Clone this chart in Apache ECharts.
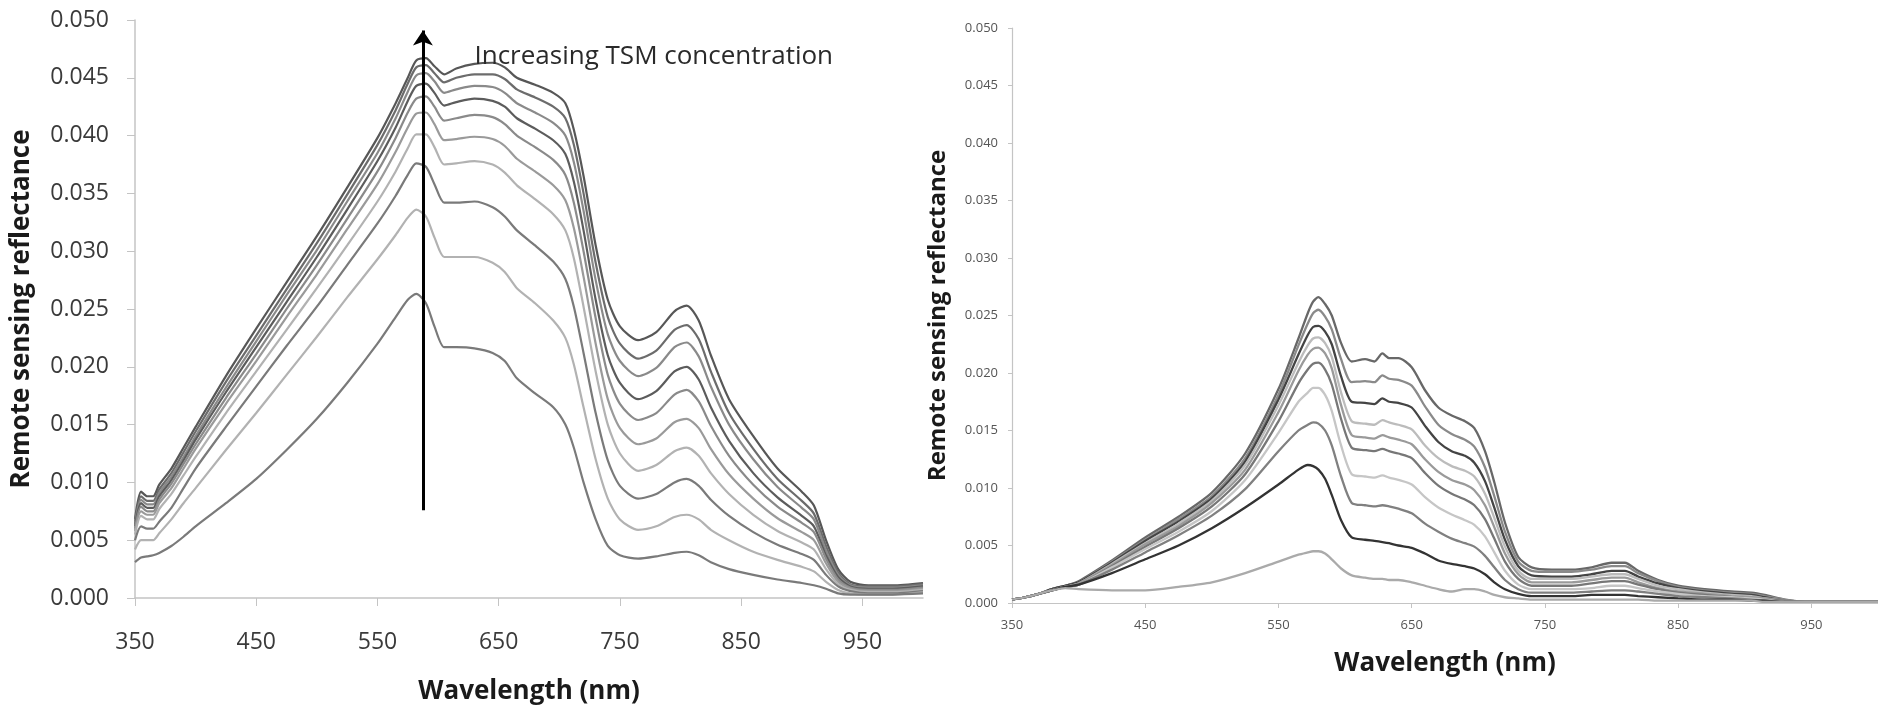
<!DOCTYPE html>
<html>
<head>
<meta charset="utf-8">
<script src="https://cdn.jsdelivr.net/npm/echarts@6/dist/echarts.min.js"></script>
<style>
html,body{margin:0;padding:0;background:#fff;}
#chart{width:1878px;height:710px;}
</style>
</head>
<body>
<div id="chart"></div>
<script>
// ---------------- DATA ----------------
const yTickLabels = ['0.000','0.005','0.010','0.015','0.020','0.025','0.030','0.035','0.040','0.045','0.050'];
const xTickLabels = ['350','450','550','650','750','850','950'];

// Left panel wavelengths (nm)
const wlLeft = [350,355,360,365,370,380,390,400,425,450,475,500,525,550,565,575,582,590,597,605,615,630,645,655,665,680,695,705,712,720,730,740,750,765,780,795,805,815,825,840,860,880,900,910,920,930,940,955,975,1000];
// Left panel curves, from highest to lowest TSM
const left1 = [.0068,.0092,.0088,.0088,.0098,.0112,.0130,.0148,.0192,.0233,.0273,.0313,.0355,.0398,.0428,.0450,.0465,.0467,.0460,.0453,.0458,.0462,.0463,.0459,.0450,.0444,.0437,.0428,.0405,.0365,.0305,.0258,.0235,.0223,.0230,.0248,.0253,.0240,.0210,.0172,.0140,.0112,.0092,.0080,.0050,.0025,.0014,.0011,.0011,.0013];
const left2 = [.0066,.0088,.0084,.0084,.0094,.0108,.0126,.0144,.0187,.0227,.0267,.0307,.0349,.0392,.0422,.0445,.0459,.0461,.0454,.0446,.0450,.0453,.0453,.0449,.0440,.0433,.0425,.0415,.0392,.0350,.0290,.0243,.0220,.0207,.0214,.0232,.0236,.0224,.0196,.0160,.0129,.0103,.0084,.0073,.0045,.0022,.0012,.0010,.0010,.0012];
const left3 = [.0064,.0085,.0081,.0081,.0091,.0105,.0122,.0140,.0182,.0222,.0262,.0301,.0343,.0385,.0415,.0438,.0452,.0454,.0447,.0437,.0440,.0443,.0442,.0437,.0428,.0420,.0411,.0400,.0377,.0335,.0275,.0228,.0205,.0192,.0199,.0217,.0221,.0209,.0183,.0150,.0120,.0096,.0078,.0068,.0041,.0020,.0011,.0009,.0009,.0011];
const left4 = [.0062,.0082,.0078,.0078,.0088,.0102,.0119,.0137,.0178,.0217,.0256,.0295,.0336,.0378,.0407,.0430,.0443,.0445,.0437,.0426,.0429,.0432,.0430,.0425,.0415,.0406,.0396,.0384,.0360,.0318,.0258,.0210,.0186,.0172,.0179,.0196,.0200,.0189,.0165,.0136,.0108,.0087,.0071,.0062,.0037,.0018,.0010,.0008,.0008,.0010];
const left5 = [.0060,.0079,.0075,.0075,.0085,.0099,.0116,.0133,.0173,.0211,.0250,.0288,.0328,.0369,.0398,.0420,.0432,.0434,.0425,.0413,.0415,.0418,.0416,.0410,.0400,.0390,.0379,.0366,.0342,.0300,.0242,.0193,.0168,.0154,.0160,.0176,.0180,.0170,.0149,.0123,.0098,.0079,.0065,.0057,.0034,.0016,.0009,.0007,.0007,.0009];
const left6 = [.0058,.0075,.0072,.0072,.0082,.0095,.0112,.0129,.0168,.0205,.0243,.0280,.0319,.0358,.0386,.0407,.0419,.0420,.0410,.0396,.0397,.0399,.0397,.0391,.0380,.0369,.0357,.0344,.0320,.0278,.0220,.0172,.0147,.0133,.0138,.0152,.0155,.0147,.0129,.0107,.0086,.0069,.0057,.0050,.0030,.0014,.0008,.0006,.0006,.0008];
const left7 = [.0055,.0071,.0068,.0068,.0077,.0090,.0106,.0122,.0160,.0196,.0232,.0268,.0305,.0343,.0369,.0389,.0401,.0401,.0390,.0375,.0376,.0378,.0375,.0368,.0357,.0345,.0332,.0318,.0294,.0252,.0196,.0150,.0125,.0110,.0115,.0127,.0130,.0123,.0108,.0090,.0072,.0058,.0048,.0042,.0025,.0012,.0007,.0005,.0005,.0007];
const left8 = [.0050,.0062,.0060,.0060,.0066,.0078,.0095,.0112,.0148,.0183,.0218,.0252,.0288,.0324,.0348,.0366,.0376,.0373,.0358,.0342,.0342,.0343,.0338,.0330,.0318,.0305,.0291,.0276,.0252,.0212,.0160,.0119,.0097,.0086,.0090,.0100,.0103,.0097,.0085,.0071,.0057,.0046,.0038,.0033,.0020,.0010,.0006,.0004,.0004,.0006];
const left9 = [.0042,.0050,.0050,.0050,.0056,.0068,.0082,.0095,.0128,.0160,.0193,.0226,.0260,.0293,.0314,.0329,.0336,.0330,.0312,.0295,.0295,.0295,.0290,.0282,.0268,.0255,.0240,.0225,.0202,.0165,.0120,.0086,.0068,.0059,.0062,.0070,.0072,.0068,.0059,.0050,.0040,.0033,.0027,.0023,.0014,.0007,.0004,.0003,.0003,.0005];
const left10 = [.0031,.0035,.0036,.0037,.0039,.0045,.0053,.0062,.0082,.0103,.0128,.0155,.0186,.0220,.0243,.0258,.0263,.0255,.0235,.0217,.0217,.0216,.0212,.0205,.0190,.0177,.0165,.0150,.0130,.0100,.0068,.0045,.0037,.0034,.0036,.0039,.0040,.0037,.0031,.0025,.0020,.0016,.0013,.0011,.0008,.0004,.0003,.0003,.0003,.0004];
const leftColors = ['#575757','#6c6c6c','#8a8a8a','#5c5c5c','#8a8a8a','#9a9a9a','#b2b2b2','#7a7a7a','#b2b2b2','#7a7a7a'];

// Right panel wavelengths (nm)
const wlRight = [350,360,370,380,390,400,425,450,475,500,525,550,565,572,576,580,585,590,597,605,615,622,628,633,640,650,660,670,680,690,697,705,712,720,730,740,755,770,785,800,810,820,835,850,870,890,905,915,930,945,970,1000];
const right1 = [.0003,.0005,.0008,.0012,.0015,.0019,.0037,.0057,.0075,.0096,.0130,.0186,.0230,.0252,.0262,.0266,.0260,.0250,.0226,.0210,.0212,.0210,.0217,.0213,.0213,.0205,.0185,.0170,.0163,.0158,.0152,.0132,.0105,.0070,.0040,.0031,.0029,.0029,.0031,.0035,.0035,.0028,.0020,.0015,.0012,.0010,.0009,.0007,.0003,.0001,.0001,.0001];
const right2 = [.0003,.0005,.0008,.0012,.0015,.0018,.0036,.0055,.0073,.0093,.0126,.0181,.0224,.0243,.0252,.0255,.0249,.0238,.0212,.0192,.0193,.0192,.0198,.0195,.0194,.0189,.0171,.0155,.0147,.0142,.0136,.0118,.0093,.0062,.0036,.0028,.0027,.0027,.0029,.0032,.0032,.0026,.0019,.0014,.0011,.0009,.0008,.0006,.0003,.0001,.0001,.0001];
const right3 = [.0003,.0005,.0008,.0012,.0015,.0018,.0035,.0054,.0071,.0091,.0123,.0177,.0216,.0233,.0240,.0241,.0236,.0225,.0197,.0175,.0174,.0173,.0178,.0175,.0174,.0170,.0154,.0140,.0132,.0128,.0122,.0106,.0083,.0055,.0032,.0024,.0023,.0023,.0025,.0028,.0028,.0023,.0017,.0013,.0010,.0008,.0007,.0005,.0002,.0001,.0001,.0001];
const right4 = [.0003,.0005,.0008,.0011,.0014,.0017,.0034,.0052,.0069,.0089,.0120,.0172,.0209,.0224,.0230,.0231,.0226,.0214,.0183,.0158,.0156,.0155,.0159,.0157,.0155,.0151,.0137,.0126,.0119,.0115,.0110,.0095,.0074,.0049,.0028,.0021,.0021,.0021,.0023,.0025,.0025,.0021,.0015,.0012,.0009,.0007,.0006,.0004,.0002,.0001,.0001,.0001];
const right5 = [.0003,.0005,.0008,.0011,.0014,.0017,.0033,.0051,.0067,.0087,.0116,.0166,.0202,.0216,.0221,.0222,.0217,.0204,.0172,.0146,.0144,.0143,.0146,.0144,.0142,.0138,.0125,.0114,.0107,.0103,.0098,.0085,.0066,.0043,.0025,.0018,.0018,.0018,.0020,.0022,.0022,.0018,.0013,.0010,.0008,.0006,.0005,.0004,.0002,.0001,.0001,.0001];
const right6 = [.0003,.0005,.0008,.0011,.0014,.0016,.0032,.0049,.0065,.0084,.0112,.0158,.0191,.0203,.0208,.0209,.0203,.0190,.0160,.0135,.0133,.0132,.0134,.0132,.0130,.0126,.0113,.0102,.0095,.0090,.0085,.0073,.0056,.0036,.0021,.0015,.0015,.0015,.0017,.0019,.0019,.0016,.0012,.0009,.0007,.0005,.0004,.0003,.0002,.0001,.0001,.0001];
const right7 = [.0003,.0005,.0008,.0011,.0014,.0016,.0031,.0047,.0062,.0080,.0107,.0148,.0175,.0183,.0187,.0187,.0181,.0167,.0137,.0112,.0110,.0109,.0111,.0109,.0107,.0103,.0092,.0083,.0077,.0072,.0068,.0058,.0044,.0028,.0016,.0012,.0012,.0012,.0013,.0015,.0015,.0013,.0010,.0008,.0006,.0005,.0004,.0003,.0001,.0001,.0001,.0001];
const right8 = [.0003,.0005,.0008,.0011,.0014,.0016,.0029,.0044,.0059,.0076,.0099,.0132,.0150,.0155,.0157,.0156,.0150,.0137,.0110,.0087,.0085,.0084,.0085,.0084,.0082,.0078,.0069,.0062,.0056,.0052,.0049,.0041,.0031,.0020,.0012,.0009,.0009,.0009,.0010,.0011,.0011,.0010,.0008,.0006,.0005,.0004,.0003,.0002,.0001,.0001,.0001,.0001];
const right9 = [.0003,.0005,.0008,.0011,.0014,.0016,.0026,.0038,.0050,.0065,.0083,.0103,.0116,.0120,.0119,.0116,.0108,.0094,.0072,.0057,.0055,.0054,.0053,.0052,.0050,.0048,.0043,.0037,.0034,.0032,.0030,.0025,.0018,.0012,.0008,.0006,.0006,.0006,.0007,.0007,.0007,.0006,.0005,.0004,.0003,.0003,.0002,.0002,.0001,.0001,.0001,.0001];
const right10 = [.0003,.0005,.0008,.0011,.0013,.0012,.0011,.0011,.0014,.0018,.0026,.0036,.0042,.0044,.0045,.0045,.0043,.0038,.0030,.0024,.0022,.0021,.0021,.0020,.0020,.0018,.0015,.0012,.0010,.0012,.0012,.0010,.0007,.0005,.0004,.0003,.0003,.0003,.0003,.0003,.0003,.0003,.0002,.0002,.0002,.0002,.0002,.0001,.0001,.0001,.0001,.0001];
const rightColors = ['#686868','#8a8a8a','#444444','#bcbcbc','#9a9a9a','#777777','#c6c6c6','#808080','#333333','#aaaaaa'];

const annotationText = 'Increasing TSM concentration';
const arrowWavelength = 587.5;
const arrowFrom = 0.0076, arrowTo = 0.0491;

// ---------------- CHART ----------------
const leftCurves = [left1,left2,left3,left4,left5,left6,left7,left8,left9,left10];
const rightCurves = [right1,right2,right3,right4,right5,right6,right7,right8,right9,right10];
const zip = (xs, ys) => xs.map((x, i) => [x, ys[i]]);
const FONT = "'Open Sans', 'DejaVu Sans', sans-serif";

function xAxisCfg(gridIndex, big) {
  return {
    type: 'value', gridIndex, min: 350, max: 1000, interval: 100,
    name: 'Wavelength (nm)', nameLocation: 'middle', nameGap: big ? 81 : 48,
    nameTextStyle: { fontFamily: FONT, fontWeight: 'bold', fontSize: 26, color: '#1a1a1a' },
    axisLine: { show: true, lineStyle: { color: '#c4c4c4', width: big ? 1.5 : 1.2 } },
    axisTick: { show: true, inside: false, length: big ? 8 : 5, lineStyle: { color: '#c4c4c4' } },
    axisLabel: {
      fontFamily: FONT, fontSize: big ? 23 : 13, color: big ? '#3a3a3a' : '#555',
      margin: big ? 33 : 16, showMaxLabel: false,
      formatter: v => xTickLabels.includes(String(v)) ? String(v) : ''
    },
    splitLine: { show: false }
  };
}
function yAxisCfg(gridIndex, big) {
  return {
    type: 'value', gridIndex, min: 0, max: 0.05, interval: 0.005,
    name: 'Remote sensing reflectance', nameLocation: 'middle', nameGap: big ? 100 : 62,
    nameTextStyle: { fontFamily: FONT, fontWeight: 'bold', fontSize: big ? 26 : 24, color: '#1a1a1a' },
    axisLine: { show: true, lineStyle: { color: '#c4c4c4', width: big ? 1.5 : 1.2 } },
    axisTick: { show: true, length: big ? 8 : 4, lineStyle: { color: '#c4c4c4' } },
    axisLabel: {
      fontFamily: FONT, fontSize: big ? 23 : 13, color: big ? '#3a3a3a' : '#555',
      margin: big ? 26 : 14,
      formatter: v => yTickLabels[Math.round(v / 0.005)]
    },
    splitLine: { show: false }
  };
}

const series = [];
leftCurves.forEach((c, i) => {
  series.push({
    type: 'line', xAxisIndex: 0, yAxisIndex: 0, data: zip(wlLeft, c),
    symbol: 'none', smooth: 0.25, z: 2,
    lineStyle: { color: leftColors[i], width: 2.2 }
  });
});
rightCurves.forEach((c, i) => {
  series.push({
    type: 'line', xAxisIndex: 1, yAxisIndex: 1, data: zip(wlRight, c),
    symbol: 'none', smooth: 0.25, z: 2,
    lineStyle: { color: rightColors[i], width: 2.3 }
  });
});
// arrow and annotation
series.push({
  type: 'line', xAxisIndex: 0, yAxisIndex: 0, data: [], z: 5,
  markLine: {
    silent: true, symbol: ['none', 'arrow'], symbolSize: 15,
    lineStyle: { color: '#000', width: 3, type: 'solid' },
    label: { show: false },
    data: [[{ coord: [arrowWavelength, arrowFrom] }, { coord: [arrowWavelength, arrowTo] }]]
  },
  markPoint: {
    silent: true, symbol: 'circle', symbolSize: 0,
    label: { show: true, position: 'right', distance: 0, formatter: annotationText,
             fontFamily: FONT, fontSize: 26, color: '#2a2a2a' },
    data: [{ coord: [630, 0.0468] }]
  }
});

const chart = echarts.init(document.getElementById('chart'), null, { renderer: 'canvas' });
chart.setOption({
  animation: false,
  backgroundColor: '#ffffff',
  grid: [
    { left: 135, top: 20, width: 788, height: 583, containLabel: false },
    { left: 1012, top: 28, width: 869, height: 575, containLabel: false }
  ],
  xAxis: [xAxisCfg(0, true), xAxisCfg(1, false)],
  yAxis: [yAxisCfg(0, true), yAxisCfg(1, false)],
  series
});
</script>
</body>
</html>
